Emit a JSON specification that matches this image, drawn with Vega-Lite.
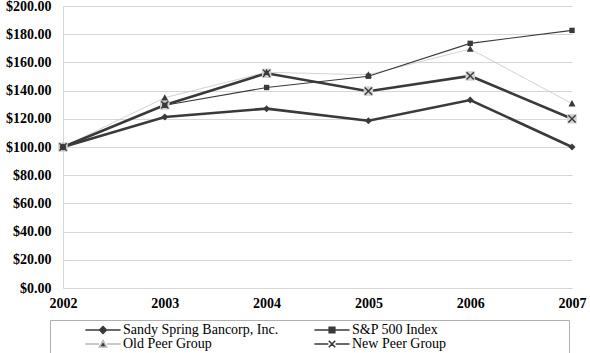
{
  "$schema": "https://vega.github.io/schema/vega-lite/v6.json",
  "autosize": {"type": "none"},
  "width": 509,
  "height": 282,
  "padding": {"left": 63, "top": 6, "right": 18, "bottom": 65},
  "background": "white",
  "config": {
    "view": {"stroke": null},
    "axis": {"labelFont": "Liberation Serif", "labelFontWeight": "bold", "labelFontSize": 14, "labelColor": "#000000"}
  },
  "data": {
    "values": [
      {"year": 2002, "series": "Sandy Spring Bancorp, Inc.", "value": 100},
      {"year": 2003, "series": "Sandy Spring Bancorp, Inc.", "value": 121.3},
      {"year": 2004, "series": "Sandy Spring Bancorp, Inc.", "value": 127.2},
      {"year": 2005, "series": "Sandy Spring Bancorp, Inc.", "value": 118.6},
      {"year": 2006, "series": "Sandy Spring Bancorp, Inc.", "value": 133.3},
      {"year": 2007, "series": "Sandy Spring Bancorp, Inc.", "value": 100},
      {"year": 2002, "series": "S&P 500 Index", "value": 100},
      {"year": 2003, "series": "S&P 500 Index", "value": 129.6},
      {"year": 2004, "series": "S&P 500 Index", "value": 142.2},
      {"year": 2005, "series": "S&P 500 Index", "value": 150.2},
      {"year": 2006, "series": "S&P 500 Index", "value": 173.5},
      {"year": 2007, "series": "S&P 500 Index", "value": 182.7},
      {"year": 2002, "series": "Old Peer Group", "value": 100},
      {"year": 2003, "series": "Old Peer Group", "value": 135},
      {"year": 2004, "series": "Old Peer Group", "value": 153},
      {"year": 2005, "series": "Old Peer Group", "value": 151.2},
      {"year": 2006, "series": "Old Peer Group", "value": 169.5},
      {"year": 2007, "series": "Old Peer Group", "value": 130.8},
      {"year": 2002, "series": "New Peer Group", "value": 100},
      {"year": 2003, "series": "New Peer Group", "value": 129.8},
      {"year": 2004, "series": "New Peer Group", "value": 152.3},
      {"year": 2005, "series": "New Peer Group", "value": 139.6},
      {"year": 2006, "series": "New Peer Group", "value": 150.4},
      {"year": 2007, "series": "New Peer Group", "value": 120}
    ]
  },
  "encoding": {
    "x": {
      "field": "year", "type": "quantitative",
      "scale": {"domain": [2002, 2007], "nice": false, "zero": false},
      "axis": {"title": null, "values": [2002, 2003, 2004, 2005, 2006, 2007], "format": "d", "grid": false, "domain": false, "ticks": false, "labelPadding": 8, "labelFlush": false}
    },
    "y": {
      "field": "value", "type": "quantitative",
      "scale": {"domain": [0, 200], "nice": false},
      "axis": {"title": null, "values": [0, 20, 40, 60, 80, 100, 120, 140, 160, 180, 200], "format": "$,.2f", "grid": true, "gridColor": "#d6d6d6", "gridWidth": 1, "domainColor": "#d6d6d6", "ticks": false, "labelPadding": 12}
    }
  },
  "layer": [
    {
      "mark": {"type": "point", "filled": true, "fill": "#3a3a3a", "opacity": 0, "strokeWidth": 1.6},
      "encoding": {
        "shape": {
          "field": "series", "type": "nominal",
          "scale": {"domain": ["Sandy Spring Bancorp, Inc.", "S&P 500 Index", "Old Peer Group", "New Peer Group"], "range": ["M-4.4,0H4.4M0,-0.85L0.85,0L0,0.85L-0.85,0Z", "M-4.4,0H4.4M-0.7,-0.7H0.7V0.7H-0.7Z", "M-4.4,0H-1M1,0H4.4M0,-0.85L0.9,0.75H-0.9Z", "M-4.4,0H-0.9M0.9,0H4.4M-0.8,-0.8L0.8,0.8M-0.8,0.8L0.8,-0.8"]}
        },
        "stroke": {
          "field": "series", "type": "nominal",
          "scale": {"domain": ["Sandy Spring Bancorp, Inc.", "S&P 500 Index", "Old Peer Group", "New Peer Group"], "range": ["#3a3a3a", "#3a3a3a", "#b8b8b8", "#3a3a3a"]},
          "legend": {
            "title": " ",
            "titleOrient": "right",
            "titlePadding": 120,
            "orient": "none",
            "direction": "horizontal",
            "legendX": -13,
            "legendY": 314,
            "columns": 2,
            "columnPadding": 3,
            "rowPadding": 0,
            "padding": 3,
            "strokeColor": "#b0b0b0",
            "labelFont": "Liberation Serif",
            "labelFontSize": 14,
            "labelColor": "#000000",
            "labelOffset": 13,
            "labelLimit": 300,
            "symbolSize": 64,
            "symbolOffset": 43,
            "symbolOpacity": 1,
            "symbolStrokeWidth": 1.6,
            "symbolFillColor": "#3a3a3a"
          }
        }
      }
    },
    {
      "transform": [{"filter": "datum.series === 'Old Peer Group'"}],
      "mark": {"type": "line", "color": "#c8c8c8", "strokeWidth": 0.8}
    },
    {
      "transform": [{"filter": "datum.series === 'S&P 500 Index'"}],
      "mark": {"type": "line", "color": "#3a3a3a", "strokeWidth": 1.1}
    },
    {
      "transform": [{"filter": "datum.series === 'Sandy Spring Bancorp, Inc.'"}],
      "mark": {"type": "line", "color": "#3a3a3a", "strokeWidth": 2.6}
    },
    {
      "transform": [{"filter": "datum.series === 'New Peer Group'"}],
      "mark": {"type": "line", "color": "#3a3a3a", "strokeWidth": 2.6}
    },
    {
      "transform": [{"filter": "datum.series === 'New Peer Group'"}],
      "mark": {"type": "point", "shape": "square", "filled": true, "color": "#d2d2d2", "opacity": 1, "size": 90}
    },
    {
      "transform": [{"filter": "datum.series === 'Sandy Spring Bancorp, Inc.'"}],
      "mark": {"type": "point", "shape": "M0,-1.1L1.1,0L0,1.1L-1.1,0Z", "filled": true, "color": "#3a3a3a", "opacity": 1, "size": 40}
    },
    {
      "transform": [{"filter": "datum.series === 'S&P 500 Index'"}],
      "mark": {"type": "point", "shape": "M-0.85,-0.85H0.85V0.85H-0.85Z", "filled": true, "color": "#3a3a3a", "opacity": 1, "size": 40}
    },
    {
      "transform": [{"filter": "datum.series === 'Old Peer Group'"}],
      "mark": {"type": "point", "shape": "M0,-1.1L1.1,0.9H-1.1Z", "filled": true, "color": "#3a3a3a", "opacity": 1, "size": 40}
    },
    {
      "transform": [{"filter": "datum.series === 'New Peer Group'"}],
      "mark": {"type": "point", "shape": "M-1.15,-1.15L1.15,1.15M-1.15,1.15L1.15,-1.15", "filled": false, "color": "#3a3a3a", "strokeWidth": 1.4, "opacity": 1, "size": 40}
    }
  ]
}
